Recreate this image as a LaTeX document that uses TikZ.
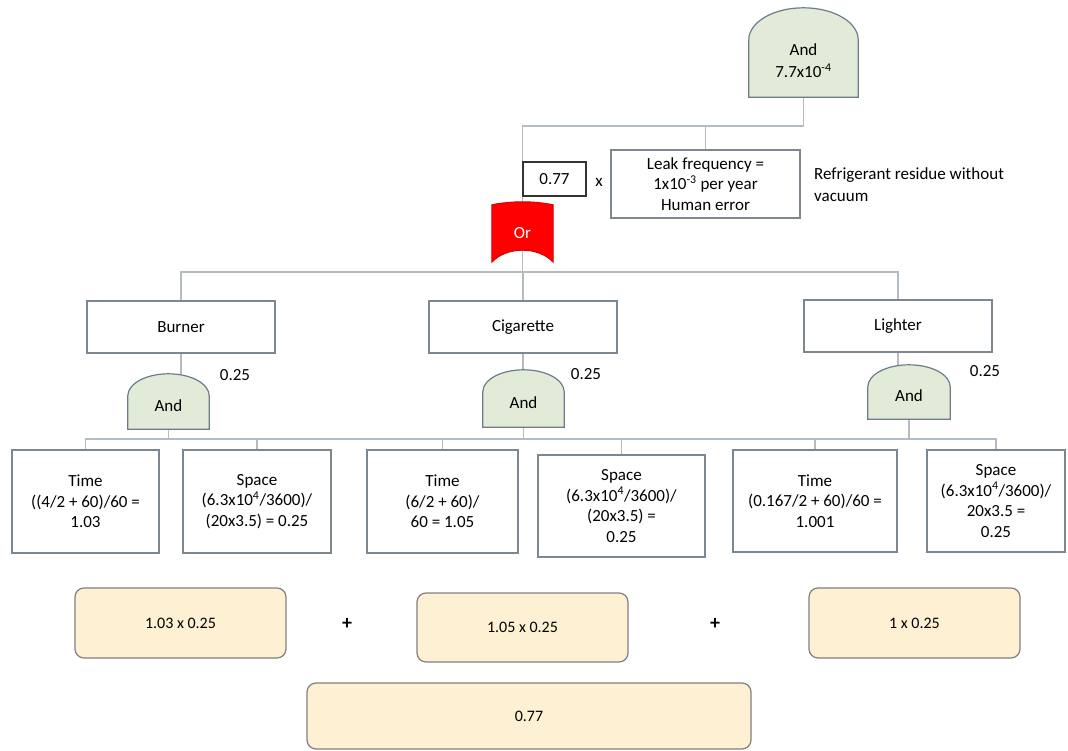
\documentclass[tikz,border=0pt]{standalone}
\usepackage{fontspec}
\setmainfont{Carlito}
\usetikzlibrary{backgrounds,calc}
\definecolor{linegray}{HTML}{B3BCC5}
\definecolor{boxline}{HTML}{7D8792}
\definecolor{gatefill}{HTML}{E2EBD8}
\definecolor{gateline}{HTML}{6E7C89}
\definecolor{orred}{HTML}{FF0000}
\definecolor{sumfill}{HTML}{FDF0D3}
\definecolor{sumline}{HTML}{808080}
\newcommand\figfont{\fontsize{17}{20.5}\selectfont}

\begin{document}
\begin{tikzpicture}[x=1pt, y=-1pt]
        \tikzstyle{every node}=[font=\figfont, inner sep=1pt]
        \tikzstyle{conn}=[draw=linegray, line width=1.2pt]
        \tikzstyle{box}=[draw=boxline, fill=white, line width=1.2pt, align=center]
        \tikzstyle{andgate}=[inner sep=0pt]
        \tikzstyle{gatetext}=[align=center, font=\fontsize{17}{22}\selectfont]
        \tikzstyle{gateshape}=[draw=gateline, fill=gatefill, line width=1.2pt]
        \tikzstyle{sumbox}=[draw=sumline, fill=sumfill, line width=1.2pt, rounded corners=9pt, font=\fontsize{16}{19}\selectfont]
        \tikzstyle{plus}=[font=\fontsize{20}{20}\selectfont\bfseries]
        \useasboundingbox (0,0) rectangle (1068,751);
        % top event
        \node[andgate, minimum width=109pt, minimum height=89pt, label={[gatetext, yshift=-8pt]center:And\\7.7x10\textsuperscript{-4}}] (g0) at (803.5,52.5) {};
        \node[box, minimum width=63pt, minimum height=34pt, draw=black!80, line width=1.8pt] (k) at (554.5,179) {0.77};
        \node (times) at (599,182) {x};
        \node[box, minimum width=189pt, minimum height=68pt] (leak) at (705.5,184) {Leak frequency =\\1x10\textsuperscript{-3} per year\\Human error};
        \node[align=left, anchor=west, font=\fontsize{17}{22.5}\selectfont] (note) at (813,184.5) {Refrigerant residue without\\vacuum};
        \node[minimum width=61pt, minimum height=57pt, inner sep=0pt, text=white] (or) at (522.5,233.5) {Or};
        % ignition sources
        \node[box, minimum width=188pt, minimum height=52pt] (burner) at (181,327) {Burner};
        \node[box, minimum width=188pt, minimum height=52pt] (cig) at (523,327) {Cigarette};
        \node[box, minimum width=188pt, minimum height=52pt] (lighter) at (898,326) {Lighter};
        \node[andgate, minimum width=81pt, minimum height=55pt, label={[gatetext, yshift=-4pt]center:And}] (g1) at (168.5,401.5) {};
        \node[andgate, minimum width=81pt, minimum height=57pt, label={[gatetext, yshift=-4pt]center:And}] (g2) at (523.5,398.5) {};
        \node[andgate, minimum width=82pt, minimum height=54pt, label={[gatetext, yshift=-4pt]center:And}] (g3) at (909,392) {};
        \node (w1) at (235,375) {0.25};
        \node (w2) at (586,374) {0.25};
        \node (w3) at (985,371) {0.25};
        % time and space
        \node[box, minimum width=147pt, minimum height=103pt] (t1) at (85.5,501.5) {Time\\((4/2 + 60)/60 =\\1.03};
        \node[box, minimum width=148pt, minimum height=103pt] (sp1) at (257,501.5) {Space\\(6.3x10\textsuperscript{4}/3600)/\\(20x3.5) = 0.25};
        \node[box, minimum width=151pt, minimum height=103pt] (t2) at (442.5,501.5) {Time\\(6/2 + 60)/\\60 = 1.05};
        \node[box, minimum width=167pt, minimum height=102pt] (sp2) at (621.5,506) {Space\\(6.3x10\textsuperscript{4}/3600)/\\(20x3.5) =\\0.25};
        \node[box, minimum width=164pt, minimum height=102pt] (t3) at (815,501) {Time\\(0.167/2 + 60)/60 =\\1.001};
        \node[box, minimum width=138pt, minimum height=102pt] (sp3) at (996,501) {Space\\(6.3x10\textsuperscript{4}/3600)/\\20x3.5 =\\0.25};
        % sums
        \node[sumbox, minimum width=211pt, minimum height=70pt] (sum1) at (180.5,623) {1.03 x 0.25};
        \node[plus] (plus1) at (347,624) {+};
        \node[sumbox, minimum width=211pt, minimum height=69pt] (sum2) at (522.5,627.5) {1.05 x 0.25};
        \node[plus] (plus2) at (715,624) {+};
        \node[sumbox, minimum width=211pt, minimum height=70pt] (sum3) at (914.5,623) {1 x 0.25};
        \node[sumbox, minimum width=444pt, minimum height=66pt] (total) at (529,716) {0.77};
        \begin{scope}[on background layer]
            \fill[white] (0,0) rectangle (1068,751);
            \coordinate (topbus) at (0,126);
            \coordinate (midbus) at (0,272);
            \coordinate (lowbus) at (0,439);
            \draw[conn] (g0.center) -- (g0.center |- topbus) -| (or.north);
            \draw[conn] (leak.north) -- (leak.north |- topbus);
            \draw[conn] (or.center) -- (or.center |- midbus);
            \draw[conn] (burner.north) |- (lighter.north |- midbus) -- (lighter.north);
            \draw[conn] (cig.north) -- (cig.north |- midbus);
            \foreach \b/\g in {burner/g1, cig/g2, lighter/g3}
                \draw[conn] (\b.south) -- (\b.south |- \g.center) (\g.center) -- (\g.center |- lowbus);
            \draw[conn] (t1.north) |- (sp3.north |- lowbus) -- (sp3.north);
            \foreach \n in {sp1,t2,sp2,t3}
                \draw[conn] (\n.north) -- (\n.north |- lowbus);
            % gate outlines
            \foreach \g/\dome in {g0/32, g1/22, g2/22, g3/22}
                \path[gateshape] let \p1=(\g.south west), \p2=(\g.north east) in
                    (\x1,\y1) -- (\x1,{\y2-\dome})
                    .. controls (\x1,{\y2-0.45*\dome}) and ({\x1+0.224*(\x2-\x1)},\y2) .. ({0.5*(\x1+\x2)},\y2)
                    .. controls ({\x2-0.224*(\x2-\x1)},\y2) and (\x2,{\y2-0.45*\dome}) .. (\x2,{\y2-\dome})
                    -- (\x2,\y1) -- cycle;
            \path[draw=orred!85!black, fill=orred, line width=1pt] let \p1=(or.south west), \p2=(or.north east) in
                (\x1,\y1) -- (\x1,\y2) .. controls ({\x1+20},{\y2+4}) and ({\x2-20},{\y2+4}) .. (\x2,\y2)
                -- (\x2,\y1) .. controls ({\x2-15},{\y1+16}) and ({\x1+15},{\y1+16}) .. (\x1,\y1) -- cycle;
        \end{scope}
    \end{tikzpicture}
\end{document}
